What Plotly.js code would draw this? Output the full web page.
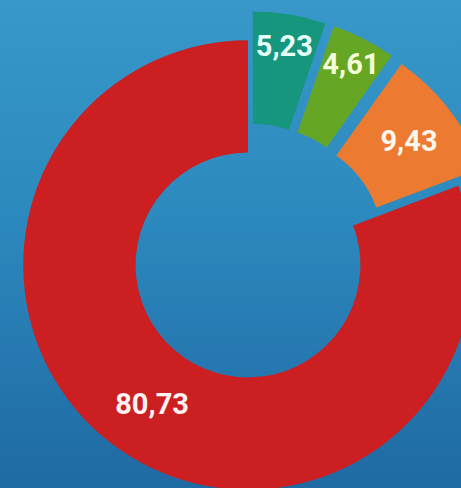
<!DOCTYPE html>
<html>
<head>
<meta charset="utf-8">
<script src="https://cdn.plot.ly/plotly-3.0.1.min.js"></script>
<style>
html, body { margin:0; padding:0; width:461px; height:488px; overflow:hidden; }
body { background: linear-gradient(to bottom, #3898ca 0%, #2c89bd 45%, #2475ad 80%, #1f6aa3 100%); position:relative; }
#chart { position:absolute; left:-6px; top:11px; width:508px; height:508px; }
</style>
</head>
<body>
<div id="chart"></div>
<script>
const categories = ["A", "B", "C", "D"];
const values = [5.23, 4.61, 9.43, 80.73];
const labelsText = ["5,23", "4,61", "9,43", "80,73"];
const sliceColors = ["#16967d", "#66a625", "#ec7a31", "#cb1f22"];
const textColors = ["#e6fff8", "#f4ffd8", "#fff6ee", "#fff2f2"];
const pulls = [0.13, 0.13, 0.13, 0];

Plotly.newPlot("chart", [{
  type: "pie",
  labels: categories,
  values: values,
  text: labelsText,
  textinfo: "text",
  textposition: "inside",
  insidetextorientation: "horizontal",
  hole: 0.5,
  pull: pulls,
  sort: false,
  direction: "clockwise",
  rotation: 0,
  marker: { colors: sliceColors, line: { width: 0 } },
  insidetextfont: { family: "Roboto", size: 29, weight: 700, color: textColors },
  hoverinfo: "none"
}], {
  width: 508, height: 508,
  margin: { l: 0, r: 0, t: 0, b: 0 },
  paper_bgcolor: "rgba(0,0,0,0)",
  plot_bgcolor: "rgba(0,0,0,0)",
  showlegend: false,
  uniformtext: { mode: "show", minsize: 29 }
}, { displayModeBar: false, staticPlot: true });
</script>
</body>
</html>
